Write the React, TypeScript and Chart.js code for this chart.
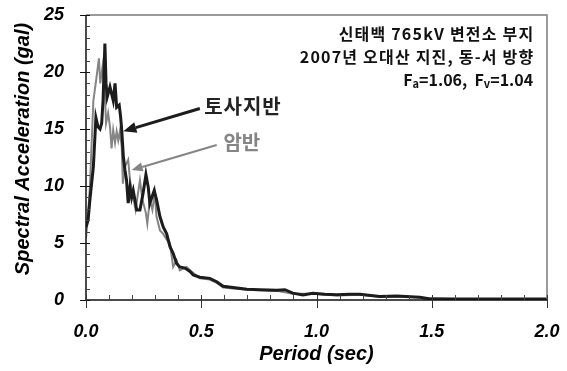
import React, { useEffect, useRef } from "react";
import { Chart, registerables } from "chart.js";
Chart.register(...registerables);

// 토사지반 (soil site) spectrum
const soilPeriods = [0.0, 0.009, 0.017, 0.032, 0.043, 0.052, 0.061, 0.068, 0.074, 0.082, 0.087, 0.092, 0.104, 0.118, 0.126, 0.133, 0.144, 0.15, 0.155, 0.162, 0.169, 0.176, 0.183, 0.191, 0.198, 0.205, 0.22, 0.234, 0.248, 0.26, 0.27, 0.277, 0.296, 0.306, 0.321, 0.335, 0.35, 0.364, 0.378, 0.393, 0.407, 0.429, 0.451, 0.465, 0.494, 0.537, 0.567, 0.595, 0.638, 0.698, 0.754, 0.828, 0.863, 0.897, 0.941, 0.984, 1.036, 1.088, 1.144, 1.188, 1.274, 1.348, 1.448, 1.495, 1.6, 1.8, 2.0];
const soilValues = [6.4, 7.0, 8.8, 11.7, 16.0, 15.2, 15.0, 15.5, 17.5, 22.5, 19.0, 17.8, 18.7, 17.5, 19.0, 16.9, 17.1, 16.1, 14.9, 12.6, 11.4, 10.5, 8.5, 9.9, 9.0, 9.6, 7.9, 7.9, 9.4, 11.0, 9.9, 8.5, 9.6, 8.8, 7.3, 6.4, 5.8, 4.7, 4.1, 3.2, 2.9, 2.8, 2.5, 2.2, 2.0, 1.9, 1.6, 1.2, 1.1, 0.95, 0.9, 0.85, 0.9, 0.6, 0.45, 0.6, 0.5, 0.45, 0.5, 0.5, 0.3, 0.35, 0.25, 0.1, 0.08, 0.08, 0.08];

// 암반 (rock site) spectrum
const rockPeriods = [0.0, 0.009, 0.017, 0.032, 0.046, 0.056, 0.062, 0.072, 0.082, 0.087, 0.096, 0.104, 0.111, 0.118, 0.126, 0.133, 0.14, 0.147, 0.155, 0.16, 0.169, 0.183, 0.191, 0.205, 0.215, 0.234, 0.245, 0.26, 0.266, 0.277, 0.288, 0.298, 0.306, 0.321, 0.335, 0.35, 0.364, 0.378, 0.393, 0.407, 0.436, 0.458, 0.494, 0.537, 0.567, 0.595, 0.638, 0.698, 0.754, 0.828, 0.897, 0.984, 1.088, 1.188, 1.274, 1.348, 1.448, 1.495, 1.6, 1.8, 2.0];
const rockValues = [5.4, 7.5, 10.0, 17.5, 19.6, 21.2, 19.0, 20.5, 18.1, 15.5, 16.4, 15.2, 13.3, 14.9, 13.8, 14.8, 14.0, 14.8, 13.4, 10.2, 11.7, 12.3, 10.5, 9.0, 7.9, 10.5, 8.8, 7.6, 6.7, 8.8, 7.9, 9.4, 7.3, 6.1, 5.8, 5.3, 5.0, 2.9, 3.5, 2.6, 2.9, 2.5, 1.9, 1.8, 1.5, 1.1, 1.0, 0.9, 0.85, 0.8, 0.55, 0.55, 0.4, 0.45, 0.28, 0.3, 0.22, 0.08, 0.06, 0.06, 0.06];

const xMin = 0;
const xMax = 2;
const xStep = 0.5;
const xMinorStep = 0.1;
const yMin = 0;
const yMax = 25;
const yStep = 5;
const yMinorStep = 1;

const xTitle = "Period (sec)";
const yTitle = "Spectral Acceleration (gal)";
const soilLabel = "토사지반";
const rockLabel = "암반";
const infoLines = ["신태백 765kV 변전소 부지", "2007년 오대산 지진, 동-서 방향"];
const faValue = "1.06";
const fvValue = "1.04";

// annotation anchors in data coordinates [fromX, fromY, toX, toY]
const soilArrow = [0.494, 16.8, 0.162, 14.8];
const rockArrow = [0.567, 13.6, 0.198, 11.4];
const soilLabelPos = [0.681, 17.0];
const rockLabelPos = [0.676, 13.8];
const infoPos = [1.94, 23.3, 21.3, 19.3];

const SOIL_COLOR = "#1c1c1c";
const ROCK_COLOR = "#858585";
const LATIN = "'Liberation Sans', Arial, sans-serif";
const KR_FONT = "'Noto Sans CJK KR', sans-serif";

function drawArrow(ctx: CanvasRenderingContext2D, x1: number, y1: number, x2: number, y2: number, color: string, width: number, headLen: number, headHalf: number) {
  const ang = Math.atan2(y2 - y1, x2 - x1);
  const bx = x2 - Math.cos(ang) * headLen;
  const by = y2 - Math.sin(ang) * headLen;
  ctx.save();
  ctx.strokeStyle = color;
  ctx.fillStyle = color;
  ctx.lineWidth = width;
  ctx.beginPath();
  ctx.moveTo(x1, y1);
  ctx.lineTo(bx, by);
  ctx.stroke();
  ctx.beginPath();
  ctx.moveTo(x2, y2);
  ctx.lineTo(bx + Math.sin(ang) * headHalf, by - Math.cos(ang) * headHalf);
  ctx.lineTo(bx - Math.sin(ang) * headHalf, by + Math.cos(ang) * headHalf);
  ctx.closePath();
  ctx.fill();
  ctx.restore();
}

const framePlugin = {
  id: "frame",
  afterDatasetsDraw(chart: any) {
    const ctx: any = chart.ctx;
    const { left, right, top, bottom } = chart.chartArea;
    const xs = chart.scales.x;
    const ys = chart.scales.y;
    ctx.save();
    // gray top and right border
    ctx.strokeStyle = "#7a7a7a";
    ctx.lineWidth = 1.5;
    ctx.beginPath();
    ctx.moveTo(left, top);
    ctx.lineTo(right, top);
    ctx.lineTo(right, bottom);
    ctx.stroke();
    // black axes
    ctx.strokeStyle = "#111";
    ctx.lineWidth = 1.5;
    ctx.beginPath();
    ctx.moveTo(left, top);
    ctx.lineTo(left, bottom);
    ctx.lineTo(right, bottom);
    ctx.stroke();
    ctx.lineWidth = 1;
    // y ticks
    for (let v = yMin; v <= yMax + 1e-9; v += yMinorStep) {
      const py = Math.round(ys.getPixelForValue(v)) + 0.5;
      const major = Math.abs(v / yStep - Math.round(v / yStep)) < 1e-6;
      ctx.strokeStyle = major ? "#111" : "#444";
      ctx.beginPath();
      ctx.moveTo(left - (major ? 6 : 0), py);
      ctx.lineTo(left + 4, py);
      ctx.stroke();
    }
    // x ticks
    for (let v = xMin; v <= xMax + 1e-9; v += xMinorStep) {
      const px = Math.round(xs.getPixelForValue(v)) + 0.5;
      const major = Math.abs(v / xStep - Math.round(v / xStep)) < 1e-6;
      ctx.strokeStyle = major ? "#333" : "#444";
      ctx.beginPath();
      ctx.moveTo(px, bottom - 5);
      ctx.lineTo(px, bottom + (major ? 8 : 0));
      ctx.stroke();
    }
    // arrows
    drawArrow(ctx, xs.getPixelForValue(soilArrow[0]), ys.getPixelForValue(soilArrow[1]), xs.getPixelForValue(soilArrow[2]), ys.getPixelForValue(soilArrow[3]), SOIL_COLOR, 3, 13, 5.5);
    drawArrow(ctx, xs.getPixelForValue(rockArrow[0]), ys.getPixelForValue(rockArrow[1]), xs.getPixelForValue(rockArrow[2]), ys.getPixelForValue(rockArrow[3]), ROCK_COLOR, 2, 11, 4.5);
    // labels
    ctx.textAlign = "center";
    ctx.textBaseline = "middle";
    ctx.font = "bold 20px " + KR_FONT;
    ctx.letterSpacing = "1px";
    ctx.fillStyle = "#222";
    ctx.fillText(soilLabel, xs.getPixelForValue(soilLabelPos[0]), ys.getPixelForValue(soilLabelPos[1]));
    ctx.fillStyle = ROCK_COLOR;
    ctx.letterSpacing = "0px";
    ctx.fillText(rockLabel, xs.getPixelForValue(rockLabelPos[0]), ys.getPixelForValue(rockLabelPos[1]));
    // info text
    const rx = xs.getPixelForValue(infoPos[0]);
    ctx.textAlign = "right";
    ctx.fillStyle = "#111";
    ctx.font = "bold 16px " + KR_FONT;
    ctx.letterSpacing = "1.2px";
    ctx.fillText(infoLines[0], rx + 1.2, ys.getPixelForValue(infoPos[1]));
    ctx.fillText(infoLines[1], rx + 1.2, ys.getPixelForValue(infoPos[2]));
    ctx.letterSpacing = "0px";
    // F_a / F_v line with subscripts
    const bigF = "bold 16px " + KR_FONT;
    const subF = "bold 11px " + KR_FONT;
    const parts: [string, boolean][] = [["F", false], ["a", true], ["=" + faValue + ",  F", false], ["v", true], ["=" + fvValue, false]];
    let total = 0;
    for (const [t, s] of parts) {
      ctx.font = s ? subF : bigF;
      total += ctx.measureText(t).width;
    }
    let cx = rx - total;
    const ly = ys.getPixelForValue(infoPos[3]);
    ctx.textAlign = "left";
    for (const [t, s] of parts) {
      ctx.font = s ? subF : bigF;
      ctx.fillText(t, cx, s ? ly + 4 : ly);
      cx += ctx.measureText(t).width;
    }
    // axis titles
    ctx.fillStyle = "#000";
    ctx.font = "bold italic 20px " + LATIN;
    ctx.textAlign = "center";
    ctx.textBaseline = "middle";
    ctx.fillText(xTitle, (left + right) / 2, 354);
    ctx.save();
    ctx.translate(23, 149);
    ctx.rotate(-Math.PI / 2);
    ctx.fillText(yTitle, 0, 0);
    ctx.restore();
    ctx.restore();
  },
};

export default function App() {
  const ref = useRef<HTMLCanvasElement | null>(null);
  useEffect(() => {
    if (!ref.current) return;
    const chart = new Chart(ref.current, {
      type: "line",
      data: {
        datasets: [
          {
            label: soilLabel,
            data: soilPeriods.map((p, i) => ({ x: p, y: soilValues[i] })),
            borderColor: SOIL_COLOR,
            borderWidth: 3,
            pointRadius: 0,
            tension: 0,
            fill: false,
          },
          {
            label: rockLabel,
            data: rockPeriods.map((p, i) => ({ x: p, y: rockValues[i] })),
            borderColor: ROCK_COLOR,
            borderWidth: 2,
            pointRadius: 0,
            tension: 0,
            fill: false,
          },
        ],
      },
      options: {
        animation: false,
        responsive: false,
        maintainAspectRatio: false,
        layout: { padding: { top: 15, right: 20, left: 0, bottom: 0 } },
        plugins: { legend: { display: false }, tooltip: { enabled: false } },
        scales: {
          x: {
            type: "linear",
            min: xMin,
            max: xMax,
            grid: { display: false, drawTicks: false },
            border: { display: false },
            ticks: {
              stepSize: xStep,
              padding: 21,
              color: "#000",
              font: { family: LATIN, size: 18, weight: "bold", style: "italic" },
              callback: (v: any) => Number(v).toFixed(1),
              maxRotation: 0,
            },
            afterFit: (s: any) => { s.height = 71; s.paddingLeft = 0; s.paddingRight = 0; },
          },
          y: {
            type: "linear",
            min: yMin,
            max: yMax,
            grid: { display: false, drawTicks: false },
            border: { display: false },
            ticks: {
              stepSize: yStep,
              padding: 22,
              color: "#000",
              font: { family: LATIN, size: 18, weight: "bold", style: "italic" },
            },
            afterFit: (s: any) => { s.width = 86; s.paddingTop = 0; s.paddingBottom = 0; },
          },
        },
      },
      plugins: [framePlugin],
    } as any);
    return () => chart.destroy();
  }, []);
  return (
    <div style={{ position: "absolute", left: 0, top: 0, width: 567, height: 371, background: "#fff" }}>
      <canvas ref={ref} width={567} height={371} style={{ display: "block" }} />
    </div>
  );
}
